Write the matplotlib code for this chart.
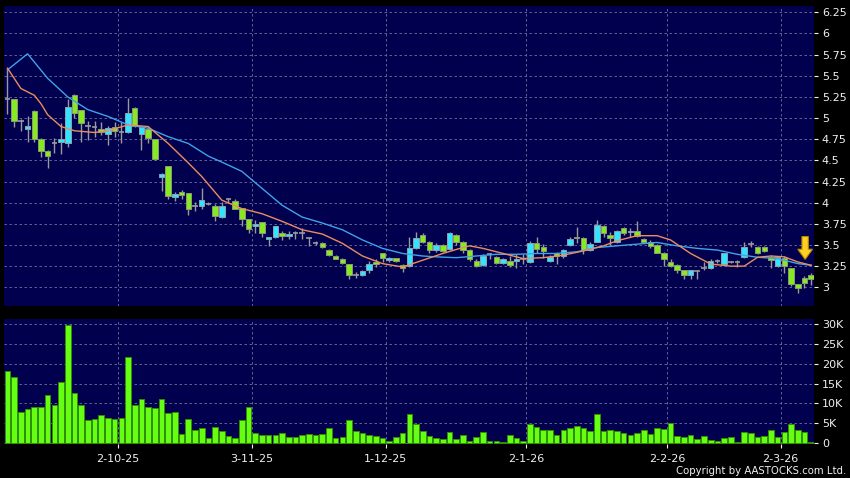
import numpy as np
import matplotlib
matplotlib.use('Agg')
import matplotlib.pyplot as plt
from matplotlib.patches import FancyArrow

# ---------------- data ----------------
opens = [5.23, 5.23, 4.96, 4.875, 5.08, 4.75, 4.61, 4.71, 4.72, 4.71,
         5.27, 5.09, 4.91, 4.90, 4.875, 4.81, 4.90, 4.84, 4.84, 5.12,
         4.81, 4.875, 4.75, 4.30, 4.43, 4.07, 4.13, 4.12, 3.96, 3.96,
         3.99, 3.96, 3.83, 4.04, 4.02, 3.94, 3.81, 3.72, 3.77, 3.57,
         3.59, 3.64, 3.61, 3.64, 3.64, 3.58, 3.52, 3.52, 3.44, 3.37,
         3.34, 3.27, 3.15, 3.15, 3.20, 3.30, 3.40, 3.32, 3.345, 3.26,
         3.25, 3.47, 3.62, 3.54, 3.44, 3.50, 3.45, 3.62, 3.53, 3.44,
         3.31, 3.26, 3.39, 3.36, 3.29, 3.31, 3.31, 3.34, 3.30, 3.52,
         3.48, 3.31, 3.40, 3.37, 3.50, 3.60, 3.58, 3.44, 3.54, 3.73,
         3.62, 3.54, 3.70, 3.65, 3.67, 3.57, 3.53, 3.50, 3.41, 3.30,
         3.26, 3.20, 3.15, 3.19, 3.23, 3.23, 3.31, 3.28, 3.30, 3.30,
         3.36, 3.51, 3.48, 3.48, 3.36, 3.25, 3.35, 3.23, 3.04, 3.11,
         3.15]
highs = [5.58, 5.23, 4.99, 5.02, 5.09, 4.76, 4.62, 4.77, 4.94, 5.23,
         5.29, 5.09, 4.97, 4.97, 4.95, 4.91, 4.95, 4.95, 5.24, 5.13,
         4.91, 4.90, 4.75, 4.35, 4.43, 4.13, 4.15, 4.12, 4.01, 4.17,
         4.01, 3.99, 4.01, 4.05, 4.04, 3.94, 3.81, 3.79, 3.77, 3.59,
         3.72, 3.66, 3.67, 3.67, 3.70, 3.60, 3.55, 3.53, 3.45, 3.38,
         3.35, 3.27, 3.18, 3.20, 3.31, 3.33, 3.41, 3.36, 3.35, 3.27,
         3.60, 3.65, 3.64, 3.55, 3.52, 3.51, 3.65, 3.63, 3.55, 3.45,
         3.33, 3.39, 3.40, 3.37, 3.35, 3.37, 3.39, 3.39, 3.55, 3.59,
         3.51, 3.38, 3.42, 3.45, 3.60, 3.71, 3.59, 3.53, 3.80, 3.74,
         3.65, 3.68, 3.71, 3.70, 3.78, 3.58, 3.56, 3.51, 3.42, 3.33,
         3.27, 3.21, 3.21, 3.20, 3.30, 3.33, 3.33, 3.41, 3.31, 3.32,
         3.53, 3.55, 3.49, 3.49, 3.38, 3.37, 3.37, 3.23, 3.04, 3.13,
         3.17]
lows = [5.05, 4.89, 4.85, 4.72, 4.72, 4.54, 4.41, 4.59, 4.58, 4.66,
        5.00, 4.72, 4.74, 4.78, 4.80, 4.68, 4.78, 4.70, 4.82, 4.89,
        4.62, 4.70, 4.50, 4.14, 4.04, 4.02, 4.04, 3.86, 3.90, 3.93,
        3.97, 3.78, 3.82, 4.00, 3.92, 3.73, 3.64, 3.64, 3.60, 3.49,
        3.58, 3.56, 3.57, 3.57, 3.57, 3.49, 3.50, 3.46, 3.37, 3.33,
        3.27, 3.10, 3.11, 3.13, 3.17, 3.24, 3.30, 3.30, 3.30, 3.18,
        3.24, 3.45, 3.52, 3.40, 3.42, 3.42, 3.44, 3.50, 3.40, 3.31,
        3.24, 3.25, 3.33, 3.27, 3.27, 3.24, 3.23, 3.28, 3.29, 3.41,
        3.35, 3.30, 3.27, 3.35, 3.49, 3.52, 3.39, 3.43, 3.53, 3.60,
        3.50, 3.52, 3.62, 3.60, 3.60, 3.52, 3.47, 3.40, 3.25, 3.24,
        3.17, 3.10, 3.10, 3.10, 3.21, 3.22, 3.29, 3.27, 3.29, 3.24,
        3.35, 3.48, 3.39, 3.42, 3.23, 3.24, 3.17, 3.01, 2.93, 2.99,
        3.03]
closes = [5.23, 4.96, 4.96, 4.91, 4.75, 4.61, 4.555, 4.71, 4.75, 5.13,
          5.06, 4.94, 4.91, 4.90, 4.84, 4.88, 4.85, 4.84, 5.06, 4.91,
          4.89, 4.76, 4.52, 4.34, 4.08, 4.10, 4.09, 3.93, 3.96, 4.03,
          3.99, 3.84, 3.96, 4.04, 3.93, 3.81, 3.69, 3.75, 3.64, 3.59,
          3.72, 3.61, 3.63, 3.64, 3.64, 3.58, 3.52, 3.48, 3.38, 3.34,
          3.29, 3.14, 3.15, 3.19, 3.28, 3.28, 3.35, 3.345, 3.31, 3.225,
          3.46, 3.58, 3.54, 3.44, 3.50, 3.43, 3.64, 3.54, 3.44, 3.34,
          3.25, 3.37, 3.39, 3.29, 3.34, 3.26, 3.33, 3.34, 3.52, 3.45,
          3.43, 3.36, 3.365, 3.44, 3.57, 3.58, 3.44, 3.51, 3.74, 3.64,
          3.58, 3.66, 3.64, 3.67, 3.61, 3.53, 3.49, 3.41, 3.34, 3.25,
          3.21, 3.15, 3.20, 3.19, 3.23, 3.31, 3.31, 3.40, 3.30, 3.30,
          3.48, 3.51, 3.40, 3.43, 3.32, 3.36, 3.25, 3.04, 2.99, 3.05,
          3.10]
volumes_k = [18.2, 16.6, 7.8, 8.6, 9.0, 9.2, 12.0, 9.7, 15.3, 29.8,
             12.6, 9.7, 5.9, 6.0, 7.1, 6.3, 6.1, 6.3, 21.6, 9.7,
             11.2, 9.2, 8.7, 11.0, 7.6, 7.7, 2.3, 6.1, 3.3, 3.9,
             1.3, 4.1, 3.0, 1.8, 1.3, 5.7, 9.2, 2.5, 2.1, 2.1,
             2.1, 2.5, 1.6, 1.5, 2.1, 2.3, 1.9, 2.3, 3.8, 1.3,
             1.4, 5.8, 3.1, 2.6, 1.9, 1.8, 1.3, 0.5, 1.6, 2.4,
             7.3, 4.8, 3.1, 1.8, 1.3, 0.9, 2.8, 1.1, 2.0, 0.6,
             1.5, 2.8, 0.6, 0.6, 0.3, 2.0, 1.3, 0.5, 4.9, 4.0,
             3.2, 3.4, 2.0, 3.2, 3.9, 4.4, 3.9, 3.1, 7.4, 3.1,
             3.3, 3.1, 2.4, 2.1, 2.6, 3.3, 2.3, 3.8, 3.5, 5.1,
             1.8, 1.6, 2.1, 1.1, 1.8, 0.8, 0.6, 1.3, 1.6, 0.2,
             2.8, 2.4, 1.6, 1.8, 3.3, 1.6, 2.8, 4.9, 3.3, 2.8,
             0.3]
ma_long_idx = [0, 3, 6, 9, 12, 15, 18, 21, 24, 27, 30, 32, 35, 38, 41, 44, 47, 50,
               53, 56, 59, 62, 64, 67, 70, 73, 76, 79, 82, 85, 88, 91, 94, 97,
               100, 103, 106, 109, 112, 115, 118, 120]
ma_long = [5.57, 5.76, 5.47, 5.25, 5.10, 5.02, 4.92, 4.88, 4.78, 4.70, 4.55, 4.48,
           4.37, 4.17, 3.97, 3.83, 3.76, 3.68, 3.56, 3.46, 3.40, 3.37, 3.36, 3.35,
           3.37, 3.39, 3.39, 3.40, 3.40, 3.42, 3.47, 3.49, 3.51, 3.53, 3.49, 3.46,
           3.44, 3.39, 3.355, 3.34, 3.28, 3.26]
ma_short_idx = [0, 2, 4, 5, 6, 8, 10, 13, 15, 18, 21, 24, 27, 29, 32, 35, 38, 41,
                44, 47, 50, 53, 56, 59, 62, 65, 68, 69, 71, 74, 77, 80, 83, 86,
                89, 91, 94, 97, 99, 102, 105, 108, 110, 112, 114, 116, 118, 120]
ma_short = [5.59, 5.35, 5.27, 5.17, 5.04, 4.90, 4.85, 4.83, 4.85, 4.92, 4.90, 4.70,
            4.47, 4.31, 4.03, 3.93, 3.87, 3.78, 3.68, 3.63, 3.52, 3.37, 3.28, 3.24,
            3.32, 3.40, 3.47, 3.49, 3.46, 3.40, 3.34, 3.35, 3.38, 3.43, 3.49, 3.55,
            3.61, 3.61, 3.56, 3.40, 3.275, 3.25, 3.25, 3.355, 3.37, 3.36, 3.30, 3.26]
date_labels = ['2-10-25', '3-11-25', '1-12-25', '2-1-26', '2-2-26', '2-3-26']
date_index = [16, 36, 56, 77, 98, 115]
price_ticks = [3, 3.25, 3.5, 3.75, 4, 4.25, 4.5, 4.75, 5, 5.25, 5.5, 5.75, 6, 6.25]
vol_ticks = [0, 5, 10, 15, 20, 25, 30]

# ---------------- style ----------------
BG = '#00004f'
GRID = '#6f6f9c'
CYAN = '#33e3ff'
GREEN = '#86ea22'
WICK = '#9a9a9a'
VOL = '#66ff14'
VOL_EDGE = '#2f8f00'
TXT = '#f0f0f0'

fig = plt.figure(figsize=(8.5, 4.78), dpi=100, facecolor='black')
left = 4 / 850
width = (813.5 - 4) / 850
ax = fig.add_axes([left, 1 - 306 / 478, width, 300 / 478])
axv = fig.add_axes([left, 1 - 444 / 478, width, 125 / 478])

n = len(closes)
x = np.arange(n)
o = np.array(opens); c = np.array(closes)
h = np.array(highs); l = np.array(lows)

for a in (ax, axv):
    a.set_facecolor(BG)
    for s in a.spines.values():
        s.set_visible(False)
    a.set_xlim(-0.52, 120.35)
    a.set_axisbelow(True)
    a.grid(True, color=GRID, linestyle=(0, (3, 3)), linewidth=0.6)
    a.yaxis.tick_right()
    a.tick_params(axis='y', colors=TXT, labelsize=8, length=3, width=0.8,
                  pad=3, direction='out')
    a.set_xticks(np.array(date_index) + 0.45)

# ---- price panel ----
ax.set_ylim(2.779, 6.325)
ax.set_yticks(price_ticks)
ax.set_yticklabels(['{:g}'.format(v) for v in price_ticks])
ax.tick_params(axis='x', length=0, labelbottom=False)

# wicks
ax.vlines(x, l, h, color=WICK, linewidth=1.0, zorder=2)
up = c > o
dn = c < o
eq = c == o
ax.bar(x[up], (c - o)[up], bottom=o[up], width=0.82, color=CYAN,
       edgecolor='#8aa4ad', linewidth=0.7, zorder=3)
ax.bar(x[dn], (o - c)[dn], bottom=c[dn], width=0.82, color=GREEN,
       edgecolor='#8c9a70', linewidth=0.7, zorder=3)
ax.hlines(c[eq], x[eq] - 0.42, x[eq] + 0.42, color=WICK, linewidth=1.2, zorder=3)

# moving averages
ax.plot(ma_long_idx, ma_long, color='#3fa3e8', linewidth=1.0, zorder=4)
ax.plot(ma_short_idx, ma_short, color='#ee8c5e', linewidth=1.0, zorder=4)

# yellow arrow marker
ax.add_patch(FancyArrow(119.1, 3.60, 0, -0.27, width=0.95, head_width=2.2,
                        head_length=0.12, length_includes_head=True,
                        fc='#ffcf22', ec='#b88600', linewidth=0.8, zorder=6))

# ---- volume panel ----
axv.set_ylim(-0.25, 31.26)
axv.bar(x, volumes_k, width=0.84, color=VOL, edgecolor=VOL_EDGE, linewidth=0.7,
        zorder=3)
axv.set_yticks(vol_ticks)
axv.set_yticklabels([('{}K'.format(v) if v else '0') for v in vol_ticks])
axv.set_xticklabels(date_labels)
axv.tick_params(axis='x', colors=TXT, labelsize=8, length=3, width=0.8, pad=4)
for t in axv.xaxis.get_ticklines():
    t.set_color('#aaaaaa')

fig.text(0.995, 0.004, 'Copyright by AASTOCKS.com Ltd.', ha='right', va='bottom',
         color=TXT, fontsize=7.3)

fig.savefig('out.png', dpi=100, facecolor='black')
